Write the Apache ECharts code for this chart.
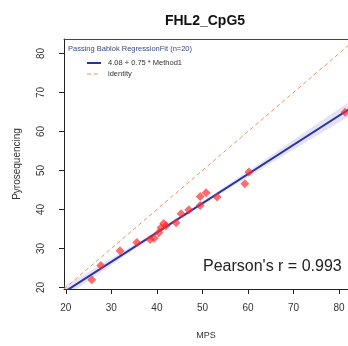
<!DOCTYPE html>
<html><head><meta charset="utf-8">
<script src="https://cdn.jsdelivr.net/npm/echarts@6/dist/echarts.min.js"></script>
<style>html,body{margin:0;padding:0;background:#fff;}#c{width:348px;height:346px;}</style>
</head><body><div id="c"></div>
<script>
const mpsValues = [25.7, 27.7, 31.9, 35.6, 38.5, 39.4, 40.4, 40.9, 41.5, 42.0, 44.2, 45.3, 47.0, 49.5, 49.5, 50.8, 53.2, 59.3, 60.2, 81.3];
const pyroValues = [22.0, 25.6, 29.4, 31.5, 32.3, 32.6, 34.0, 35.3, 36.4, 35.8, 36.6, 38.9, 39.9, 41.0, 43.3, 44.3, 43.2, 46.6, 49.6, 64.9];
const xMin = 19.6, xMax = 81.95;
const yMin = 19.6, yMax = 83.7;
const tickValues = [20, 30, 40, 50, 60, 70, 80];
const fitIntercept = 4.08, fitSlope = 0.75;
const lineX = [19.6, 83.7];
const bandX = [19.6, 25, 35, 45, 55, 65, 75, 83.7];
const bandHalf = [1.5, 1.1, 0.6, 0.4, 0.6, 1.0, 1.5, 1.9];

const pts = mpsValues.map((x, i) => [x, pyroValues[i]]);
const fitLine = lineX.map(x => [x, fitIntercept + fitSlope * x]);
const idLine = lineX.map(x => [x, x]);
const bandUpper = bandX.map((x, i) => [x, fitIntercept + fitSlope * x + bandHalf[i]]);
const bandLower = bandX.map((x, i) => [x, fitIntercept + fitSlope * x - bandHalf[i]]);

const chart = echarts.init(document.getElementById('c'), null, {renderer: 'canvas'});
const tickFont = {fontFamily: 'Liberation Sans', fontSize: 10, color: '#333'};
chart.setOption({
  animation: false,
  title: {text: 'FHL2_CpG5', left: 200, textAlign: 'center', top: 9,
    textStyle: {fontFamily: 'Liberation Sans', fontWeight: 'bold', fontSize: 14, color: '#111'}},
  grid: {left: 64, right: 0, top: 39, bottom: 57, show: false},
  xAxis: [{type: 'value', min: xMin, max: xMax, name: 'MPS', nameLocation: 'middle', nameGap: 42,
    nameTextStyle: {fontFamily: 'Liberation Sans', fontSize: 9, color: '#333'},
    axisLine: {show: true, onZero: false, lineStyle: {color: '#222'}},
    axisTick: {show: true, length: 5, lineStyle: {color: '#222'}, customValues: tickValues},
    axisLabel: {...tickFont, margin: 14, customValues: tickValues},
    splitLine: {show: false}},
    {type: 'value', position: 'top', min: xMin, max: xMax,
    axisLine: {show: true, onZero: false, lineStyle: {color: '#444'}},
    axisTick: {show: false}, axisLabel: {show: false}, splitLine: {show: false}}],
  yAxis: {type: 'value', min: yMin, max: yMax, name: 'Pyrosequencing', nameLocation: 'middle', nameGap: 42,
    nameTextStyle: {fontFamily: 'Liberation Sans', fontSize: 10, color: '#333'},
    axisLine: {show: true, onZero: false, lineStyle: {color: '#222'}},
    axisTick: {show: true, length: 5, lineStyle: {color: '#222'}, customValues: tickValues},
    axisLabel: {...tickFont, rotate: 90, margin: 18, customValues: tickValues},
    splitLine: {show: false}},
  series: [
    {type: 'custom', name: 'band', silent: true, z: 1,
      renderItem: function (params, api) {
        if (params.dataIndex !== 0) return null;
        const poly = bandUpper.concat(bandLower.slice().reverse()).map(p => api.coord(p));
        return {type: 'polygon', shape: {points: poly},
          style: {fill: 'rgba(150,140,215,0.25)', stroke: null}};
      },
      clip: true,
      data: [[bandX[0], bandUpper[0][1]]]},
    {type: 'line', name: 'identity', data: idLine, symbol: 'none', z: 2,
      lineStyle: {color: '#f0905a', width: 1, type: [4, 3]}},
    {type: 'line', name: 'fit', data: fitLine, symbol: 'none', z: 3,
      lineStyle: {color: '#2433a6', width: 2}},
    {type: 'scatter', name: 'points', data: pts, symbol: 'diamond', symbolSize: 9, z: 4,
      itemStyle: {color: 'rgba(255,40,40,0.85)'}}
  ],
  graphic: [
    {type: 'text', left: 68, top: 45, style: {text: 'Passing Bablok RegressionFit (n=20)', fontFamily: 'Liberation Sans', fontSize: 7.5, fill: '#3a4a7a'}},
    {type: 'line', shape: {x1: 87, y1: 63, x2: 101, y2: 63}, style: {stroke: '#2433a6', lineWidth: 2}},
    {type: 'text', left: 108, top: 59, style: {text: '4.08 + 0.75 * Method1', fontFamily: 'Liberation Sans', fontSize: 7.5, fill: '#333'}},
    {type: 'line', shape: {x1: 87, y1: 74, x2: 101, y2: 74}, style: {stroke: '#f0905a', lineWidth: 1, lineDash: [4, 3]}},
    {type: 'text', left: 108, top: 70, style: {text: 'identity', fontFamily: 'Liberation Sans', fontSize: 7.5, fill: '#333'}},
    {type: 'text', left: 203, top: 259, style: {text: "Pearson's r = 0.993", fontFamily: 'Liberation Sans', fontSize: 16, fill: '#222'}}
  ]
});
</script></body></html>
